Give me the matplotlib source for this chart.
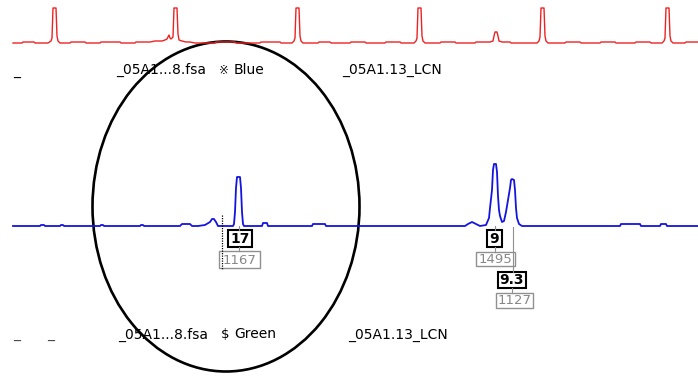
import matplotlib.pyplot as plt
from matplotlib.patches import Ellipse, Rectangle

# Trazas del electroferograma (x, y en pixeles de la captura)
red_trace = [
    (13, 43), (22, 43), (23, 42), (34, 42), (35, 43), (48, 43),
    (51, 41), (52, 38), (53, 8), (56, 8), (57, 36), (58, 41), (60, 43),
    (70, 43), (71, 42), (85, 42), (86, 43), (100, 43), (101, 42), (120, 42), (121, 43),
    (135, 43), (136, 42), (150, 42), (155, 41), (162, 41), (165, 40), (167, 39),
    (169, 35), (170, 38), (171, 39),
    (173, 37), (174, 8), (177, 8), (178, 34), (179, 40), (182, 41), (186, 42),
    (190, 42), (195, 43), (215, 43), (216, 42), (235, 42), (236, 43), (260, 43),
    (261, 42), (280, 42), (281, 43), (292, 43),
    (294, 41), (295, 38), (296, 8), (299, 8), (300, 36), (301, 41), (303, 43),
    (318, 43), (319, 42), (330, 42), (331, 43), (350, 43), (351, 42), (365, 42),
    (366, 43), (385, 43), (386, 42), (400, 42), (401, 43), (414, 43),
    (416, 41), (417, 38), (418, 8), (421, 8), (422, 36), (423, 41), (425, 43),
    (440, 43), (441, 42), (455, 42), (456, 43), (475, 43), (476, 42), (490, 42),
    (493, 41), (494, 36), (495, 32), (497, 32), (498, 36), (499, 41), (502, 42),
    (510, 42), (511, 43), (537, 43),
    (539, 41), (540, 37), (541, 8), (544, 8), (545, 36), (546, 41), (548, 43),
    (565, 43), (566, 42), (580, 42), (581, 43), (600, 43), (601, 42), (615, 42),
    (616, 43), (635, 43), (636, 42), (650, 42), (651, 43), (662, 43),
    (664, 41), (665, 38), (666, 8), (669, 8), (670, 36), (671, 41), (673, 43),
    (685, 43), (686, 42), (698, 42),
]

blue_trace = [
    (13, 226), (40, 226), (41, 225), (44, 225), (45, 226), (60, 226), (61, 225),
    (63, 225), (64, 226), (100, 226), (101, 225), (103, 225), (104, 226),
    (140, 226), (141, 225), (143, 225), (144, 226),
    (180, 226), (182, 224), (190, 224), (192, 226), (198, 226), (205, 225),
    (210, 222), (212, 219), (214, 219), (216, 222), (218, 226),
    (233, 226), (234, 224), (235, 212), (236, 188), (237, 177), (240, 177),
    (241, 188), (242, 212), (243, 224), (244, 226),
    (262, 226), (263, 223), (267, 223), (268, 226),
    (312, 226), (313, 224), (325, 224), (326, 226),
    (465, 226), (468, 224), (472, 222), (476, 224), (480, 226), (486, 225),
    (489, 218), (490, 208), (492, 190), (493, 170), (494, 164), (496, 164),
    (497, 172), (498, 196), (499, 210), (500, 216), (502, 222), (504, 221),
    (506, 212), (508, 200), (510, 188), (511, 180), (512, 179), (514, 180),
    (515, 190), (516, 208), (517, 218), (519, 224), (522, 226),
    (620, 226), (621, 224), (640, 224), (641, 226), (660, 226), (661, 224),
    (666, 224), (667, 226), (698, 226),
]

# Etiquetas de alelos y tamanos
alelos = ["17", "9", "9.3"]
tamanos = ["1167", "1495", "1127"]

# Cajas (x0, y0, x1, y1)
cajas_alelo = [(228, 230, 252, 247), (487, 230, 502, 247), (498, 272, 526, 288)]
cajas_tamano = [(219, 251, 260, 268), (476, 252, 515, 266), (496, 293, 533, 308)]

fig = plt.figure(figsize=(6.98, 3.80), dpi=100)
ax = fig.add_axes([0, 0, 1, 1])
ax.set_xlim(0, 698)
ax.set_ylim(380, 0)
ax.axis('off')

rx, ry = zip(*red_trace)
ax.plot(rx, ry, color='#ee2222', lw=1.0)
bx, by = zip(*blue_trace)
ax.plot(bx, by, color='#1414e0', lw=1.3)

# Conectores
gris = '#909090'
ax.plot([239, 239], [226, 230], color=gris, lw=0.8)
ax.plot([239, 239], [247, 251], color=gris, lw=0.8)
ax.plot([495, 495], [226, 230], color=gris, lw=0.8)
ax.plot([495, 495], [247, 252], color=gris, lw=0.8)
ax.plot([513, 513], [227, 272], color=gris, lw=0.8)
ax.plot([512, 512], [288, 293], color=gris, lw=0.8)
ax.plot([222, 222], [215, 270], color='black', lw=0.9, ls=(0, (1, 1)))

for lab, (x0, y0, x1, y1) in zip(alelos, cajas_alelo):
    ax.add_patch(Rectangle((x0, y0), x1 - x0, y1 - y0, fc='white', ec='black', lw=1.5))
    ax.text((x0 + x1) / 2, (y0 + y1) / 2 + 0.5, lab, ha='center', va='center',
            fontsize=10, color='black', fontweight='semibold')
for lab, (x0, y0, x1, y1) in zip(tamanos, cajas_tamano):
    ax.add_patch(Rectangle((x0, y0), x1 - x0, y1 - y0, fc='white', ec=gris, lw=1.0))
    ax.text((x0 + x1) / 2, (y0 + y1) / 2 + 0.5, lab, ha='center', va='center',
            fontsize=9.5, color='#888888')

# Textos de las filas
fs = 10
ax.text(13, 76, "_", fontsize=fs, color='black', va='baseline')
ax.text(116, 73.5, "_05A1...8.fsa", fontsize=fs, va='baseline')
ax.text(219, 73.5, "\u203b", fontsize=fs - 1.5, va='baseline')
ax.text(234, 73.5, "Blue", fontsize=fs, va='baseline')
ax.text(342, 73.5, "_05A1.13_LCN", fontsize=fs, va='baseline')

ax.text(13, 338.5, "_", fontsize=fs, color='#444444', va='baseline')
ax.text(47, 338.5, "_", fontsize=fs, color='#444444', va='baseline')
ax.text(118, 338.5, "_05A1...8.fsa", fontsize=fs, va='baseline')
ax.text(221, 338.5, "\\$", fontsize=fs - 0.5, va='baseline')
ax.text(234, 338.5, "Green", fontsize=fs, va='baseline')
ax.text(348, 338.5, "_05A1.13_LCN", fontsize=fs, va='baseline')

ax.add_patch(Ellipse((226, 206.5), 267, 330, fill=False, ec='black', lw=1.9))

fig.savefig('out.png', dpi=100)
